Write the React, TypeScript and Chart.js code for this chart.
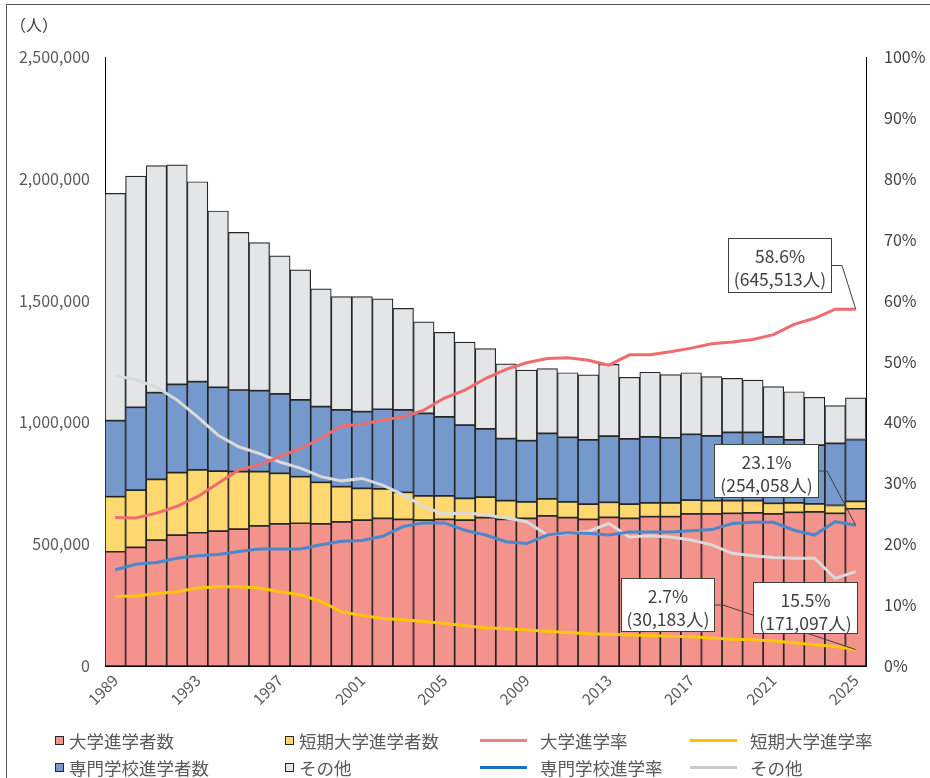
import React, { useEffect, useRef } from "react";
import { Chart, registerables } from "chart.js";

Chart.register(...registerables);

// ---------------- data ----------------
const years = [
  "1989", "1990", "1991", "1992", "1993", "1994", "1995", "1996", "1997", "1998",
  "1999", "2000", "2001", "2002", "2003", "2004", "2005", "2006", "2007", "2008",
  "2009", "2010", "2011", "2012", "2013", "2014", "2015", "2016", "2017", "2018",
  "2019", "2020", "2021", "2022", "2023", "2024", "2025",
];
const xTickYears = ["1989", "1993", "1997", "2001", "2005", "2009", "2013", "2017", "2021", "2025"];

// persons
const universityCount = [
  469000, 487000, 517000, 537000, 547000, 554000, 562000, 575000, 583000, 586000,
  583000, 592000, 599000, 606000, 602000, 599000, 602000, 599000, 609000, 602000,
  606000, 616000, 609000, 602000, 610000, 606000, 613000, 613000, 624000, 624000,
  627000, 629000, 624000, 631000, 633000, 627000, 645513,
];
const juniorCollegeCount = [
  226000, 235000, 249000, 257000, 258000, 246000, 236000, 223000, 208000, 191000,
  171000, 144000, 130000, 121000, 111000, 99000, 96000, 89000, 84000, 77000,
  68000, 70000, 65000, 63000, 62000, 59000, 57000, 57000, 57000, 55000,
  52000, 50000, 44000, 39000, 33000, 32000, 30183,
];
const vocationalCount = [
  312000, 340000, 356000, 362000, 362000, 344000, 335000, 332000, 326000, 315000,
  311000, 315000, 315000, 327000, 338000, 339000, 325000, 301000, 280000, 254000,
  251000, 269000, 265000, 263000, 272000, 267000, 271000, 267000, 270000, 266000,
  280000, 280000, 273000, 258000, 241000, 255000, 254058,
];
const otherCount = [
  933000, 949000, 932000, 901000, 821000, 724000, 647000, 608000, 567000, 534000,
  483000, 465000, 472000, 453000, 417000, 376000, 347000, 341000, 330000, 307000,
  290000, 266000, 265000, 267000, 294000, 253000, 265000, 259000, 253000, 243000,
  222000, 215000, 206000, 198000, 196000, 155000, 171097,
];

// percent
const universityRate = [
  24.4, 24.3, 25.1, 26.2, 27.8, 30.0, 32.2, 33.0, 34.4, 35.7,
  37.4, 39.4, 39.7, 40.4, 40.9, 42.0, 44.0, 45.3, 47.2, 48.7,
  49.8, 50.5, 50.6, 50.2, 49.4, 51.1, 51.1, 51.6, 52.2, 52.9,
  53.2, 53.6, 54.4, 56.1, 57.1, 58.6, 58.6,
];
const juniorCollegeRate = [
  11.4, 11.5, 11.9, 12.2, 12.8, 13.0, 13.0, 12.8, 12.2, 11.7,
  10.6, 8.9, 8.3, 7.8, 7.6, 7.3, 7.0, 6.6, 6.3, 6.1,
  5.9, 5.7, 5.5, 5.3, 5.2, 5.1, 5.0, 4.9, 4.8, 4.6,
  4.4, 4.3, 4.1, 3.8, 3.5, 3.2, 2.7,
];
const vocationalRate = [
  15.8, 16.7, 17.0, 17.7, 18.1, 18.3, 18.8, 19.2, 19.2, 19.2,
  19.9, 20.5, 20.6, 21.3, 22.9, 23.5, 23.5, 22.3, 21.5, 20.4,
  20.1, 21.5, 21.9, 21.8, 21.5, 22.0, 22.0, 22.0, 22.2, 22.4,
  23.4, 23.6, 23.6, 22.3, 21.5, 23.7, 23.1,
];
const otherRate = [
  47.7, 47.0, 45.8, 43.7, 40.9, 37.9, 36.0, 34.9, 33.5, 32.5,
  31.1, 30.4, 30.8, 29.7, 28.1, 26.2, 24.9, 25.2, 24.8, 24.3,
  23.7, 21.5, 21.8, 22.1, 23.4, 21.2, 21.4, 21.2, 20.7, 19.9,
  18.5, 18.1, 17.8, 17.7, 17.7, 14.4, 15.5,
];

const leftTickValues = [0, 500000, 1000000, 1500000, 2000000, 2500000];
const rightTickValues = [0, 10, 20, 30, 40, 50, 60, 70, 80, 90, 100];

// ---------------- styles ----------------
const FONT = '"Noto Sans CJK JP", "Noto Sans", sans-serif';
const BAR_BORDER = "#262626";

const barSeries = [
  { label: "大学進学者数", data: universityCount, color: "#F4928C" },
  { label: "短期大学進学者数", data: juniorCollegeCount, color: "#FFD970" },
  { label: "専門学校進学者数", data: vocationalCount, color: "#7599CC" },
  { label: "その他", data: otherCount, color: "#E4E5E7" },
];
const lineSeries = [
  { label: "大学進学率", data: universityRate, color: "#EF6B6D", legend: "#F08080" },
  { label: "短期大学進学率", data: juniorCollegeRate, color: "#FFC60B", legend: "#FFC000" },
  { label: "専門学校進学率", data: vocationalRate, color: "#4A88CA", legend: "#1F6FBF" },
  { label: "その他", data: otherRate, color: "#DADADA", legend: "#C8C8C8" },
];

// callouts (box layout in canvas px; anchor comes from the last data point)
const callouts = [
  { rate: universityRate, count: universityCount, box: [728, 238, 104, 55], elbow: 842, leader: true },
  { rate: vocationalRate, count: vocationalCount, box: [714, 444, 105, 54], elbow: 827, leader: true },
  { rate: juniorCollegeRate, count: juniorCollegeCount, box: [621, 578, 94, 54], elbow: 723, leader: true },
  { rate: otherRate, count: otherCount, box: [753, 582, 105, 52], elbow: 0, leader: false },
];

const calloutPlugin = {
  id: "callouts",
  afterDatasetsDraw(chart: any) {
    const ctx = chart.ctx;
    const xs = chart.scales.x;
    const y1 = chart.scales.y1;
    const last = years.length - 1;
    const px = xs.getPixelForValue(last);
    ctx.save();
    callouts.forEach((c) => {
      const [bx, by, bw, bh] = c.box;
      const rate = c.rate[last];
      const count = c.count[last];
      const py = y1.getPixelForValue(rate);
      if (c.leader) {
        const my = by + bh / 2;
        ctx.beginPath();
        ctx.strokeStyle = "#404040";
        ctx.lineWidth = 1;
        ctx.moveTo(bx + bw, my);
        ctx.lineTo(c.elbow, my);
        ctx.lineTo(px, py);
        ctx.stroke();
      }
      ctx.fillStyle = "#FFFFFF";
      ctx.fillRect(bx, by, bw, bh);
      ctx.strokeStyle = "#404040";
      ctx.lineWidth = 1;
      ctx.strokeRect(bx + 0.5, by + 0.5, bw - 1, bh - 1);
      ctx.fillStyle = "#404040";
      ctx.font = `17.5px ${FONT}`;
      ctx.textAlign = "center";
      ctx.textBaseline = "middle";
      ctx.fillText(`${rate.toFixed(1)}%`, bx + bw / 2, by + 18);
      ctx.fillText(`(${count.toLocaleString("en-US")}人)`, bx + bw / 2, by + 41);
    });
    ctx.restore();
  },
};

const legendRows = [
  [
    { kind: "box", s: barSeries[0] },
    { kind: "box", s: barSeries[1] },
    { kind: "line", s: lineSeries[0] },
    { kind: "line", s: lineSeries[1] },
  ],
  [
    { kind: "box", s: barSeries[2] },
    { kind: "box", s: barSeries[3] },
    { kind: "line", s: lineSeries[2] },
    { kind: "line", s: lineSeries[3] },
  ],
];
const legendColX = [55, 285, 480, 690];
const legendRowY = [740, 767];

export default function App() {
  const canvasRef = useRef<HTMLCanvasElement | null>(null);

  useEffect(() => {
    if (!canvasRef.current) return;
    const datasets: any[] = [
      ...lineSeries.map((s) => ({
        type: "line",
        label: s.label,
        data: s.data,
        yAxisID: "y1",
        borderColor: s.color,
        backgroundColor: s.color,
        borderWidth: 3,
        pointRadius: 0,
        tension: 0,
        order: 0,
      })),
      ...barSeries.map((s) => ({
        type: "bar",
        label: s.label,
        data: s.data,
        yAxisID: "y",
        backgroundColor: s.color,
        borderColor: BAR_BORDER,
        borderWidth: 1.2,
        borderSkipped: false,
        categoryPercentage: 1,
        barPercentage: 1,
        stack: "s",
        order: 1,
      })),
    ];
    const chart = new Chart(canvasRef.current, {
      type: "bar",
      data: { labels: years, datasets },
      options: {
        responsive: false,
        animation: false,
        devicePixelRatio: 1,
        layout: { padding: { top: 57, left: 0, right: 0, bottom: 0 } },
        plugins: {
          legend: { display: false },
          tooltip: { enabled: false },
          title: { display: false },
        },
        scales: {
          x: {
            stacked: true,
            offset: true,
            grid: { display: false, drawTicks: false },
            border: { display: true, color: "#000000", width: 1 },
            ticks: {
              autoSkip: false,
              maxRotation: 45,
              minRotation: 45,
              padding: 5,
              color: "#595959",
              font: { family: FONT, size: 15.5 },
              callback: (_v: any, i: number) => (xTickYears.includes(years[i]) ? years[i] : ""),
            },
            afterFit: (s: any) => {
              s.height = 112;
            },
          },
          y: {
            stacked: true,
            position: "left",
            min: 0,
            max: 2500000,
            grid: { display: false, drawTicks: false },
            border: { display: true, color: "#000000", width: 1 },
            afterBuildTicks: (s: any) => {
              s.ticks = leftTickValues.map((v) => ({ value: v }));
            },
            ticks: {
              padding: 15,
              color: "#595959",
              font: { family: FONT, size: 16 },
              callback: (v: any) => Number(v).toLocaleString("en-US"),
            },
            afterFit: (s: any) => {
              s.width = 105;
            },
          },
          y1: {
            position: "right",
            min: 0,
            max: 100,
            grid: { display: false, drawTicks: false },
            border: { display: true, color: "#000000", width: 1 },
            afterBuildTicks: (s: any) => {
              s.ticks = rightTickValues.map((v) => ({ value: v }));
            },
            ticks: {
              padding: 18,
              color: "#404040",
              font: { family: FONT, size: 16 },
              callback: (v: any) => `${v}%`,
            },
            afterFit: (s: any) => {
              s.width = 64;
            },
          },
        },
      },
      plugins: [calloutPlugin],
    });
    return () => chart.destroy();
  }, []);

  return (
    <div
      style={{
        position: "fixed",
        left: 0,
        top: 0,
        width: 930,
        height: 778,
        background: "#FFFFFF",
        overflow: "hidden",
        fontFamily: FONT,
      }}
    >
      <div
        style={{
          position: "absolute",
          left: 6,
          top: 4,
          width: 940,
          height: 800,
          borderTop: "1px solid #555555",
          borderLeft: "1px solid #555555",
        }}
      />
      <canvas
        ref={canvasRef}
        width={930}
        height={778}
        style={{ position: "absolute", left: 0, top: 0, width: 930, height: 778 }}
      />
      <div
        style={{
          position: "absolute",
          left: 10,
          top: 12,
          fontSize: 16,
          color: "#404040",
          lineHeight: "24px",
        }}
      >
        （人）
      </div>
      {legendRows.map((row, ri) =>
        row.map((item, ci) => (
          <div
            key={`${ri}-${ci}`}
            style={{
              position: "absolute",
              left: legendColX[ci],
              top: legendRowY[ri] - 13,
              height: 26,
              display: "flex",
              alignItems: "center",
              fontSize: 17.5,
              color: "#595959",
              whiteSpace: "nowrap",
            }}
          >
            {item.kind === "box" ? (
              <span
                style={{
                  display: "inline-block",
                  width: 7,
                  height: 7,
                  background: item.s.color,
                  border: "1px solid #262626",
                  marginRight: 5,
                }}
              />
            ) : (
              <span
                style={{
                  display: "inline-block",
                  width: 47,
                  height: 3,
                  background: (item.s as any).legend,
                  marginRight: 13,
                }}
              />
            )}
            <span>{item.s.label}</span>
          </div>
        ))
      )}
    </div>
  );
}
